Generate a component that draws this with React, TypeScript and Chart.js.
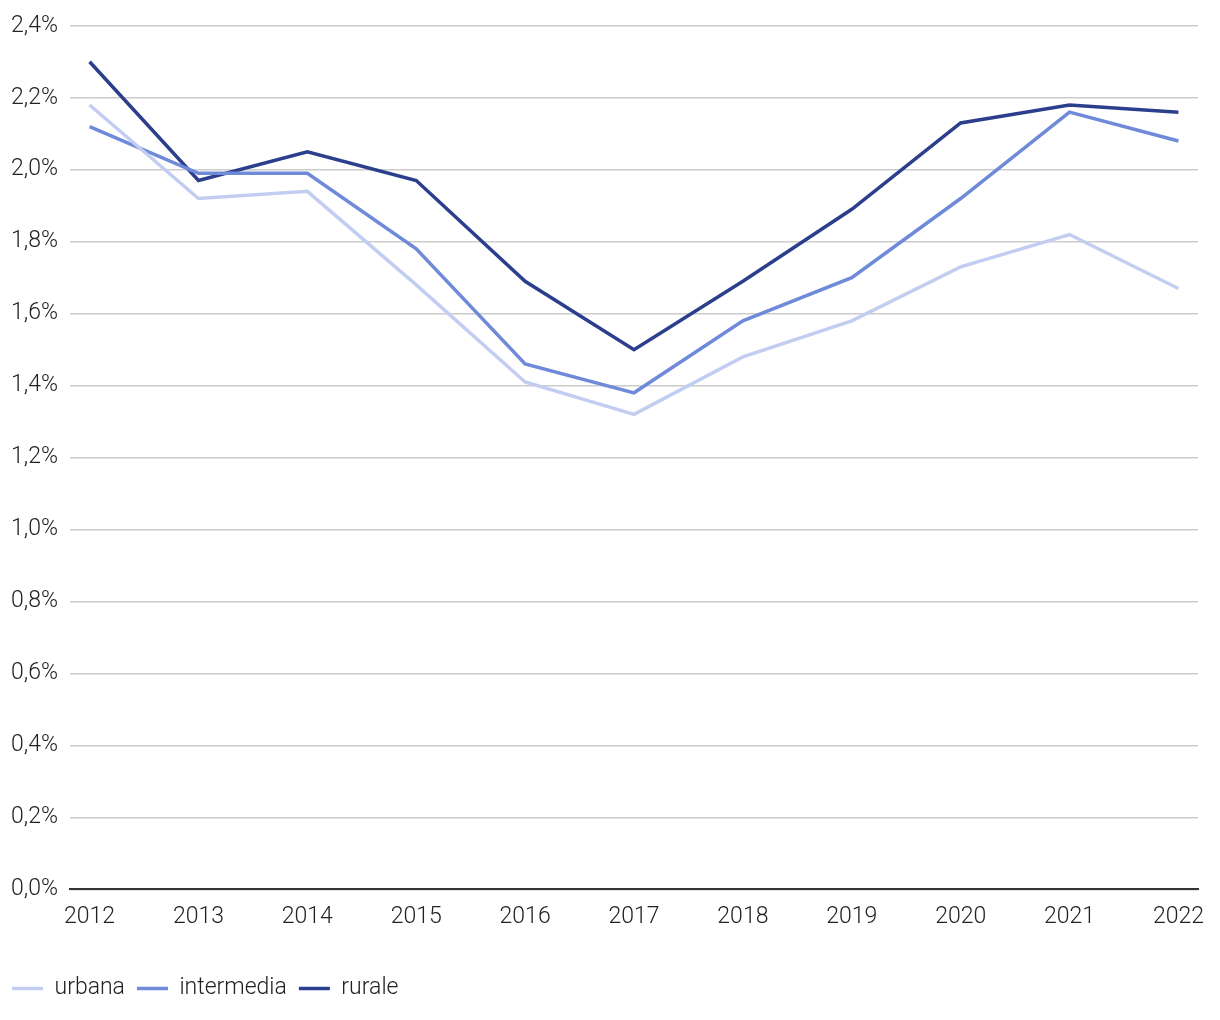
import React, { useEffect, useRef } from "react";
import { Chart, registerables } from "chart.js";

Chart.register(...registerables);

const years = [2012, 2013, 2014, 2015, 2016, 2017, 2018, 2019, 2020, 2021, 2022];
const urbana = [2.18, 1.92, 1.94, 1.68, 1.41, 1.32, 1.48, 1.58, 1.73, 1.82, 1.67];
const intermedia = [2.12, 1.99, 1.99, 1.78, 1.46, 1.38, 1.58, 1.7, 1.92, 2.16, 2.08];
const rurale = [2.3, 1.97, 2.05, 1.97, 1.69, 1.5, 1.69, 1.89, 2.13, 2.18, 2.16];
const seriesNames = ["urbana", "intermedia", "rurale"];
const seriesColors = ["#c3cdf1", "#6e8ad8", "#2b3f8c"];

const FONT = "Roboto";
const FS = 23;

export default function App() {
  const ref = useRef<HTMLCanvasElement>(null);
  useEffect(() => {
    if (!ref.current) return;
    const all = [urbana, intermedia, rurale];
    const chart = new Chart(ref.current, {
      type: "line",
      data: {
        datasets: all.map((vals, i) => ({
          label: seriesNames[i],
          data: years.map((y, j) => ({ x: y, y: vals[j] })),
          borderColor: seriesColors[i],
          backgroundColor: seriesColors[i],
          borderWidth: 3.5,
          pointRadius: 0,
          tension: 0,
          fill: false,
        })),
      },
      options: {
        animation: false,
        responsive: true,
        maintainAspectRatio: false,
        layout: { padding: { top: 13, right: 22, left: 0, bottom: 10 } },
        plugins: {
          tooltip: { enabled: false },
          legend: {
            position: "bottom",
            align: "start",
            labels: {
              usePointStyle: true,
              pointStyle: "line",
              pointStyleWidth: 31,
              boxHeight: 20,
              padding: 12,
              color: "#222",
              font: { family: FONT, size: FS, weight: "300" },
            },
          },
        },
        scales: {
          x: {
            type: "linear",
            min: 2011.82,
            max: 2022.18,
            grid: { display: false, drawTicks: false },
            border: { display: true, color: "#333", width: 2 },
            afterFit: (s: any) => {
              s.height += 20;
            },
            ticks: {
              stepSize: 1,
              includeBounds: false,
              padding: 14,
              color: "#222",
              font: { family: FONT, size: FS, weight: "300" },
              callback: (v: any) => String(v),
            },
          },
          y: {
            min: 0,
            max: 2.4,
            afterFit: (s: any) => {
              s.width = 70;
            },
            grid: { color: "#cccccc", lineWidth: 1.5, drawTicks: false },
            border: { display: false },
            ticks: {
              stepSize: 0.2,
              padding: 12,
              color: "#222",
              font: { family: FONT, size: FS, weight: "300" },
              callback: (v: any) => Number(v).toFixed(1).replace(".", ",") + "%",
            },
          },
        },
      },
    });
    return () => chart.destroy();
  }, []);
  return (
    <div style={{ position: "fixed", left: 0, top: 0, width: 1220, height: 1020, background: "#fff" }}>
      <canvas ref={ref} />
    </div>
  );
}
